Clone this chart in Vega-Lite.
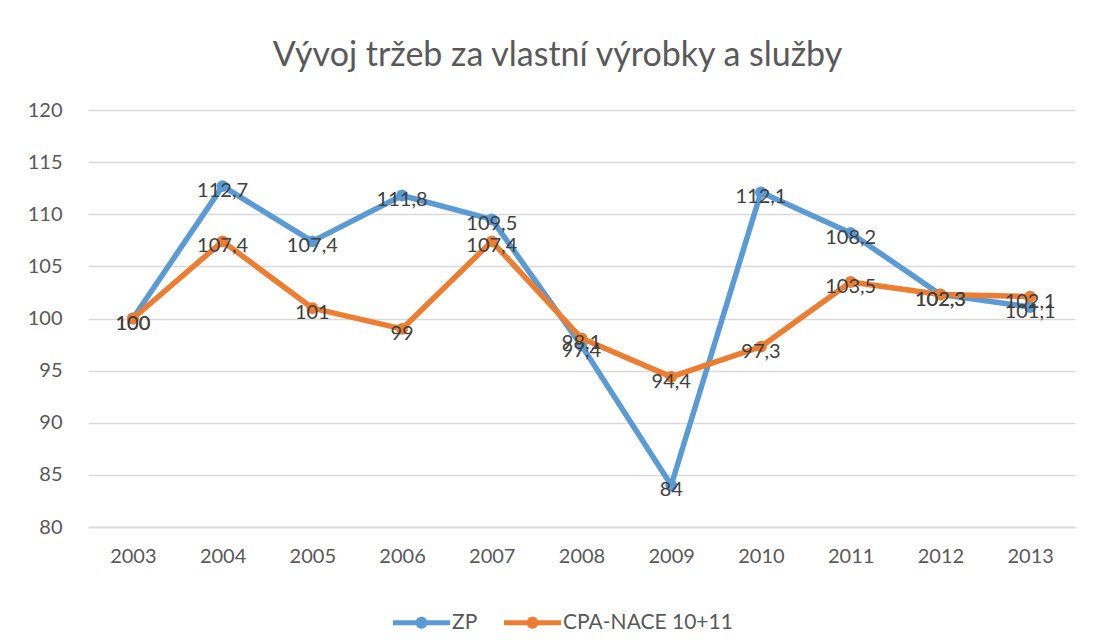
{
  "$schema": "https://vega.github.io/schema/vega-lite/v6.json",
  "width": 987,
  "height": 417,
  "autosize": {"type": "none"},
  "padding": {"left": 88, "top": 110, "right": 19, "bottom": 116},
  "background": "white",
  "config": {
    "locale": {"number": {"decimal": ",", "thousands": " ", "grouping": [3], "currency": ["", " Kč"]}},
    "font": "Lato",
    "view": {"stroke": null},
    "title": {"font": "Lato", "fontSize": 34, "fontWeight": "normal", "color": "#595959"}
  },
  "title": {"text": "Vývoj tržeb za vlastní výrobky a služby", "offset": 27, "dx": -24, "anchor": "middle"},
  "data": {"values": [
    {"year": "2003", "series": "ZP", "value": 100},
    {"year": "2004", "series": "ZP", "value": 112.7},
    {"year": "2005", "series": "ZP", "value": 107.4},
    {"year": "2006", "series": "ZP", "value": 111.8},
    {"year": "2007", "series": "ZP", "value": 109.5},
    {"year": "2008", "series": "ZP", "value": 97.4},
    {"year": "2009", "series": "ZP", "value": 84},
    {"year": "2010", "series": "ZP", "value": 112.1},
    {"year": "2011", "series": "ZP", "value": 108.2},
    {"year": "2012", "series": "ZP", "value": 102.3},
    {"year": "2013", "series": "ZP", "value": 101.1},
    {"year": "2003", "series": "CPA-NACE 10+11", "value": 100},
    {"year": "2004", "series": "CPA-NACE 10+11", "value": 107.4},
    {"year": "2005", "series": "CPA-NACE 10+11", "value": 101},
    {"year": "2006", "series": "CPA-NACE 10+11", "value": 99},
    {"year": "2007", "series": "CPA-NACE 10+11", "value": 107.4},
    {"year": "2008", "series": "CPA-NACE 10+11", "value": 98.1},
    {"year": "2009", "series": "CPA-NACE 10+11", "value": 94.4},
    {"year": "2010", "series": "CPA-NACE 10+11", "value": 97.3},
    {"year": "2011", "series": "CPA-NACE 10+11", "value": 103.5},
    {"year": "2012", "series": "CPA-NACE 10+11", "value": 102.3},
    {"year": "2013", "series": "CPA-NACE 10+11", "value": 102.1}
  ]},
  "encoding": {
    "x": {"field": "year", "type": "ordinal", "scale": {"type": "point", "padding": 0.5},
      "axis": {"title": null, "labelAngle": 0, "labelFontSize": 20, "labelColor": "#595959", "labelFont": "Lato",
        "domainColor": "#d9d9d9", "domainWidth": 1.3, "ticks": false, "labelPadding": 19}},
    "y": {"field": "value", "type": "quantitative", "scale": {"domain": [80, 120], "nice": false, "zero": false},
      "axis": {"title": null, "values": [80, 85, 90, 95, 100, 105, 110, 115, 120], "labelFontSize": 20, "labelColor": "#595959",
        "labelFont": "Lato", "domain": false, "ticks": false, "gridColor": "#d9d9d9", "gridWidth": 1.3, "labelPadding": 26}}
  },
  "layer": [
    {
      "mark": {"type": "line", "strokeWidth": 5.5, "strokeJoin": "round"},
      "encoding": {
        "color": {"field": "series", "type": "nominal", "sort": ["ZP", "CPA-NACE 10+11"],
          "scale": {"domain": ["ZP", "CPA-NACE 10+11"], "range": ["#5B9BD5", "#ED7D31"]},
          "legend": {"title": null, "orient": "none", "legendX": 305, "legendY": 484, "direction": "horizontal",
            "labelFontSize": 21, "labelColor": "#595959", "labelFont": "Lato", "columnPadding": 26, "labelOffset": 2, "labelLimit": 400,
            "symbolType": "M-1,-0.09 H1 V0.09 H-1 Z M0.21,0 A0.21,0.21 0 1,1 -0.21,0 A0.21,0.21 0 1,1 0.21,0 Z",
            "symbolSize": 3249, "symbolStrokeWidth": 0,
            "encode": {"symbols": {"update": {"fill": {"scale": "color", "field": "value"}, "strokeWidth": {"value": 0}, "opacity": {"value": 1}}}}}
        },
        "order": {"field": "series", "sort": "descending"}
      }
    },
    {
      "mark": {"type": "point", "filled": true, "size": 140, "opacity": 1},
      "encoding": {"color": {"field": "series", "type": "nominal", "legend": null}}
    },
    {
      "mark": {"type": "text", "fontSize": 20, "color": "#404040", "font": "Lato", "dy": 5},
      "encoding": {"text": {"field": "value", "type": "quantitative", "format": ".1~f"}}
    }
  ]
}
